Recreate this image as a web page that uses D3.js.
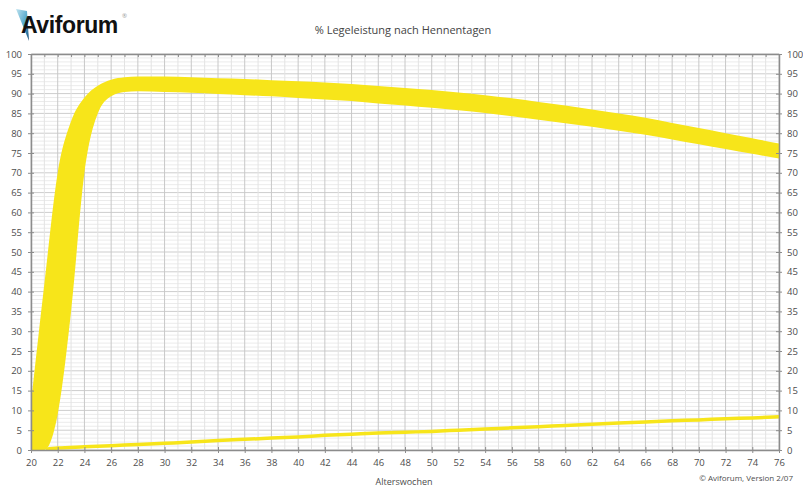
<!DOCTYPE html>
<html>
<head>
<meta charset="utf-8">
<script src="https://cdn.jsdelivr.net/npm/d3@7"></script>
<style>
  body { margin: 0; background: #fff; }
  text { font-family: "Open Sans", "Noto Sans", sans-serif; }
</style>
</head>
<body>
<div id="chart"></div>
<script>
// band (Legeleistung Sollkurve, obere und untere Grenze)
const bandWeeks = [20, 21, 22, 23, 24, 25, 26, 27, 28, 30, 32, 34, 36, 38, 40, 42, 44, 46, 48, 50,
                   52, 54, 56, 58, 60, 62, 64, 66, 68, 70, 72, 74, 76];
const bandUpper = [12, 42, 70, 83, 89, 92, 93.5, 94.1, 94.3, 94.3, 94.1, 93.9, 93.7, 93.4, 93.1, 92.8, 92.4, 91.9, 91.4, 90.9,
                   90.3, 89.6, 88.8, 87.9, 87.0, 86.0, 85.0, 83.9, 82.6, 81.3, 80.0, 78.7, 77.4];
const bandLower = [0, 0, 9, 35, 70, 85, 89.3, 90.4, 90.6, 90.4, 90.2, 89.9, 89.6, 89.3, 88.9, 88.5, 88.1, 87.5, 87.0, 86.4,
                   85.8, 85.1, 84.3, 83.4, 82.5, 81.6, 80.6, 79.6, 78.4, 77.2, 76.0, 74.8, 73.6];

// thin line near the bottom
const lineWeeks = [21.1, 22, 24, 26, 28, 30, 32, 34, 36, 38, 40, 42, 44, 46, 48, 50, 52, 54, 56, 58,
                   60, 62, 64, 66, 68, 70, 72, 74, 76];
const lineValues = [0.2, 0.5, 0.8, 1.1, 1.4, 1.7, 2.0, 2.4, 2.7, 3.0, 3.3, 3.7, 4.0, 4.3, 4.5, 4.7, 5.0, 5.3, 5.6, 5.9,
                    6.2, 6.5, 6.8, 7.1, 7.4, 7.6, 7.9, 8.1, 8.4];

const xTicks = d3.range(20, 77, 2);
const yTicks = d3.range(0, 101, 5);

const width = 803;
const height = 490;
const margin = { top: 54, right: 24, bottom: 40, left: 31 };

const svg = d3.select("#chart").append("svg")
  .attr("width", width)
  .attr("height", height);

const x = d3.scaleLinear()
  .domain([20, 76])
  .range([margin.left, width - margin.right]);

const y = d3.scaleLinear()
  .domain([0, 100])
  .range([height - margin.bottom, margin.top]);

// grid
const grid = svg.append("g");
d3.range(0, 101, 1).forEach(v => {
  grid.append("line")
    .attr("x1", x(20)).attr("x2", x(76))
    .attr("y1", y(v)).attr("y2", y(v))
    .attr("stroke", v % 5 === 0 ? "#cdcdcd" : "#ebebeb")
    .attr("stroke-width", 1);
});
d3.range(20, 77, 1).forEach(w => {
  grid.append("line")
    .attr("x1", x(w)).attr("x2", x(w))
    .attr("y1", y(0)).attr("y2", y(100))
    .attr("stroke", w % 2 === 0 ? "#c8c8c8" : "#e3e3e3")
    .attr("stroke-width", 1);
});

// yellow band
const area = d3.area()
  .x((d, i) => x(bandWeeks[i]))
  .y0((d, i) => y(bandLower[i]))
  .y1((d, i) => y(bandUpper[i]))
  .curve(d3.curveMonotoneX);

svg.append("path")
  .datum(bandWeeks)
  .attr("fill", "#f7e51a")
  .attr("d", area);

const line = d3.line()
  .x((d, i) => x(lineWeeks[i]))
  .y((d, i) => y(lineValues[i]))
  .curve(d3.curveMonotoneX);

svg.append("path")
  .datum(lineWeeks)
  .attr("fill", "none")
  .attr("stroke", "#f7e51a")
  .attr("stroke-width", 3.5)
  .attr("d", line);

// axes
function styleAxis(g) {
  g.select(".domain").attr("stroke", "#8c8c8c").attr("stroke-width", 1.5);
  g.selectAll(".tick line").attr("stroke", "#8c8c8c");
  g.selectAll(".tick text").attr("fill", "#4d4d4d").style("font-size", "9.5px");
}

svg.append("g")
  .attr("transform", `translate(${margin.left},0)`)
  .call(d3.axisLeft(y).tickValues(yTicks).tickSize(3).tickPadding(6).tickSizeOuter(0))
  .call(styleAxis)
  .call(g => g.selectAll(".tick line").attr("x2", 3).attr("x1", -3));

svg.append("g")
  .attr("transform", `translate(${width - margin.right},0)`)
  .call(d3.axisRight(y).tickValues(yTicks).tickSize(3).tickPadding(5).tickSizeOuter(0))
  .call(styleAxis)
  .call(g => g.selectAll(".tick line").attr("x1", -3).attr("x2", 3));

svg.append("g")
  .attr("transform", `translate(0,${height - margin.bottom})`)
  .call(d3.axisBottom(x).tickValues(xTicks).tickFormat(d3.format("d")).tickSize(3).tickPadding(6).tickSizeOuter(0))
  .call(styleAxis)
  .call(g => g.selectAll(".tick line").attr("y1", -3).attr("y2", 3));

svg.append("g")
  .attr("transform", `translate(0,${margin.top})`)
  .call(d3.axisTop(x).tickValues(d3.range(20, 77, 1)).tickFormat("").tickSize(-3).tickSizeOuter(0))
  .call(styleAxis);

// titles
svg.append("text")
  .attr("x", 403)
  .attr("y", 34)
  .attr("text-anchor", "middle")
  .attr("fill", "#444")
  .style("font-size", "11px")
  .style("font-weight", "500")
  .text("% Legeleistung nach Hennentagen");

svg.append("text")
  .attr("x", 404)
  .attr("y", 485)
  .attr("text-anchor", "middle")
  .attr("fill", "#4d4d4d")
  .style("font-size", "9px")
  .text("Alterswochen");

svg.append("text")
  .attr("x", 793)
  .attr("y", 481)
  .attr("text-anchor", "end")
  .attr("fill", "#4d4d4d")
  .style("font-size", "8px")
  .text("© Aviforum, Version 2/07");

// logo
const defs = svg.append("defs");
const grad = defs.append("linearGradient")
  .attr("id", "logoGrad")
  .attr("x1", "0").attr("y1", "0").attr("x2", "1").attr("y2", "1");
grad.append("stop").attr("offset", "0%").attr("stop-color", "#bfe3f0");
grad.append("stop").attr("offset", "60%").attr("stop-color", "#4aa3c8");
grad.append("stop").attr("offset", "100%").attr("stop-color", "#1d4f7a");

svg.append("path")
  .attr("d", "M16,9 L27,11 L29,41 Z")
  .attr("fill", "url(#logoGrad)");

svg.append("text")
  .attr("x", 21)
  .attr("y", 33)
  .attr("fill", "#111")
  .style("font-family", "'Liberation Sans', Arial, sans-serif")
  .style("font-size", "23px")
  .style("font-weight", "bold")
  .style("letter-spacing", "-0.4px")
  .text("Aviforum");

svg.append("text")
  .attr("x", 122)
  .attr("y", 18)
  .attr("fill", "#999")
  .style("font-size", "6px")
  .text("®");
</script>
</body>
</html>
